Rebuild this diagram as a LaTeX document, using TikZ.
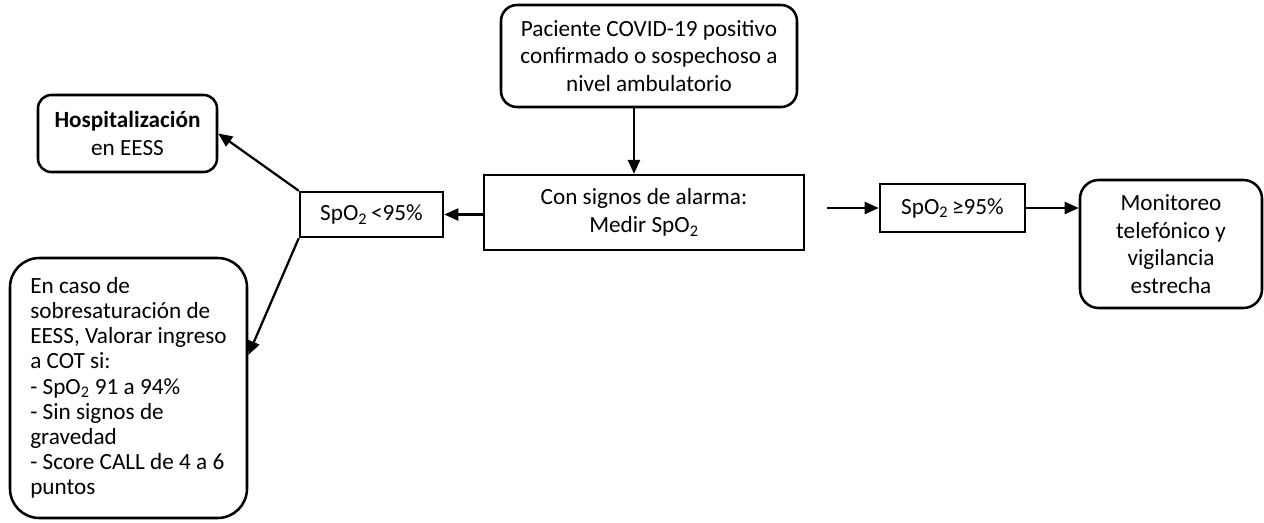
\documentclass[tikz,border=0pt]{standalone}
\usepackage{fontspec}
\setmainfont{Carlito}
\usetikzlibrary{arrows.meta}
\begin{document}
\begin{tikzpicture}[x=0.75pt,y=-0.75pt,
  box/.style={draw=black,line width=1.9pt,inner sep=0pt,align=center,
    font=\fontsize{17.4}{20.8}\selectfont},
  rbox/.style={box,rounded corners=12pt},
  arr/.style={line width=1.7pt,-{Triangle[length=10.5pt,width=9pt]}}]
\useasboundingbox[fill=white] (0,0) rectangle (1264,522);
\node[rbox,minimum width=222pt,minimum height=76.5pt] (top) at (649,56)
  {Paciente COVID-19 positivo\\confirmado o sospechoso a\\nivel ambulatorio};
\node[box,minimum width=240pt,minimum height=56pt] (mid) at (644,212.5)
  {Con signos de alarma:\\Medir SpO\textsubscript{2}};
\node[box,minimum width=108.75pt,minimum height=36pt] (hi) at (952.5,208)
  {SpO\textsubscript{2}\,≥95\%};
\node[rbox,rounded corners=14pt,minimum width=136.5pt,minimum height=96pt] (mon) at (1171,244)
  {Monitoreo\\telefónico y\\vigilancia\\estrecha};
\node[box,minimum width=107.25pt,minimum height=33.75pt] (lo) at (371.5,214.5)
  {SpO\textsubscript{2}\,<95\%};
\node[rbox,rounded corners=10pt,minimum width=134.25pt,minimum height=57.75pt] (hosp) at (127.5,133.5)
  {\textbf{Hospitalización}\\en EESS};
\node[box,rounded corners=22pt,minimum width=177.75pt,minimum height=195pt,
  align=left,font=\fontsize{17.4}{18.9}\selectfont] (low) at (128.5,388)
  {En caso de\\sobresaturación de\\EESS, Valorar ingreso\\a COT si:\\- SpO\textsubscript{2} 91 a 94\%\\- Sin signos de\\gravedad\\- Score CALL de 4 a 6\\puntos};
\coordinate (gap) at (827,208);
\draw[arr] (top.south -| 634,0) -- (mid.north -| 634,0);
\draw[arr] (mid.west |- lo.east) -- (lo.east);
\draw[arr] (gap) -- (hi.west);
\draw[arr] (hi.east) -- (hi.east -| mon.west);
\draw[arr] (lo.north west) -- (hosp.east);
\draw[arr] (lo.south west) -- (low.east |- 0,355);
\end{tikzpicture}
\end{document}
